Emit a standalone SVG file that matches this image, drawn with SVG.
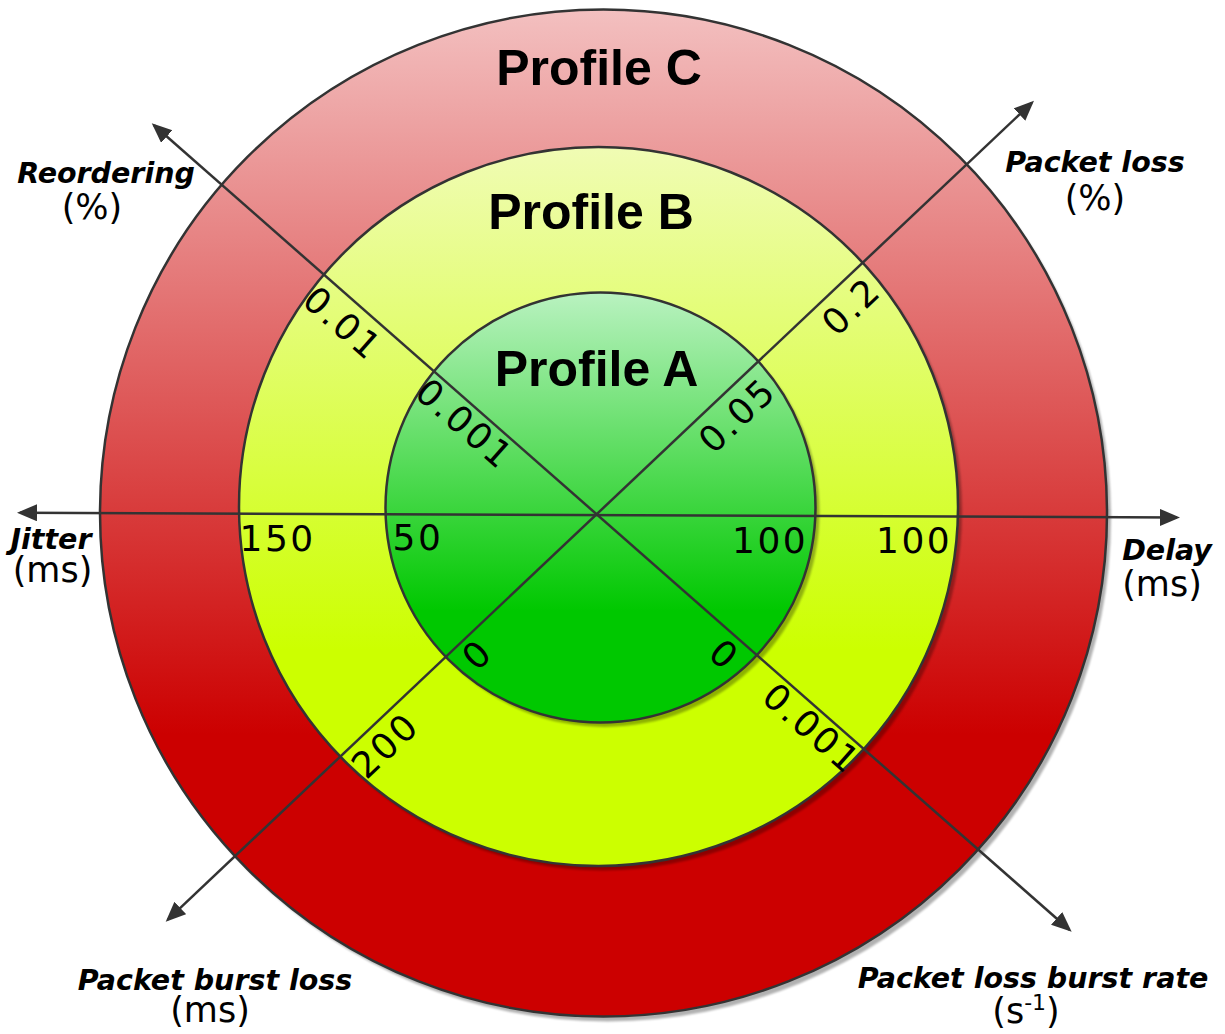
<svg xmlns="http://www.w3.org/2000/svg" width="1225" height="1034" viewBox="0 0 1225 1034">
<defs>
<linearGradient id="gC" x1="0" y1="0" x2="0" y2="1">
<stop offset="0" stop-color="#f3c0c0"/>
<stop offset="0.72" stop-color="#cc0000"/>
<stop offset="1" stop-color="#cc0000"/>
</linearGradient>
<linearGradient id="gB" x1="0" y1="0" x2="0" y2="1">
<stop offset="0" stop-color="#f0fcb4"/>
<stop offset="0.7" stop-color="#ccff00"/>
<stop offset="1" stop-color="#ccff00"/>
</linearGradient>
<linearGradient id="gA" x1="0" y1="0" x2="0" y2="1">
<stop offset="0" stop-color="#b9f2c0"/>
<stop offset="0.74" stop-color="#00c800"/>
<stop offset="1" stop-color="#00c800"/>
</linearGradient>
<filter id="blur" x="-5%" y="-5%" width="110%" height="110%">
<feGaussianBlur stdDeviation="1"/>
</filter>
<marker id="arr" markerUnits="userSpaceOnUse" markerWidth="24" markerHeight="20" refX="17" refY="8.5" orient="auto-start-reverse">
<path d="M0,0 L20,8.5 L0,17 Z" fill="#333"/>
</marker>
</defs>
<style>
.ring{stroke:#333;stroke-width:2.5}
.shadow{fill:#000;opacity:0.3}
.axis{stroke:#333;stroke-width:2.5;fill:none;marker-start:url(#arr);marker-end:url(#arr)}
.title{font-family:"Liberation Sans",Arial,sans-serif;font-weight:bold;font-size:50px;fill:#000;text-anchor:middle}
.val{font-family:"DejaVu Sans",sans-serif;font-size:36px;letter-spacing:2.5px;fill:#000}
.vc{text-anchor:middle}
.name{font-family:"DejaVu Sans",sans-serif;font-weight:bold;font-style:oblique;font-size:28.5px;fill:#000;text-anchor:middle}
.unit{font-family:"DejaVu Sans",sans-serif;font-size:35px;fill:#000;text-anchor:middle}
</style>
<rect width="1225" height="1034" fill="#fff"/>
<g id="profile-c">
<circle class="shadow" cx="607.5" cy="518" r="503.5" filter="url(#blur)"/>
<circle class="ring" cx="603.5" cy="513" r="503.5" fill="url(#gC)"/>
<text class="title" x="599" y="85">Profile C</text>
</g>
<g id="profile-b">
<circle class="shadow" cx="602.5" cy="511" r="359.5" filter="url(#blur)"/>
<circle class="ring" cx="598.5" cy="506.5" r="359.5" fill="url(#gB)"/>
<text class="title" x="591" y="229">Profile B</text>
</g>
<g id="profile-a">
<circle class="shadow" cx="604.5" cy="512" r="215" filter="url(#blur)"/>
<circle class="ring" cx="600.5" cy="507.5" r="215" fill="url(#gA)"/>
<text class="title" x="596.5" y="386">Profile A</text>
</g>
<g id="connectors">
<line class="axis" x1="20" y1="512.7" x2="1177" y2="517.5"/>
<line class="axis" x1="154" y1="125.3" x2="1069.4" y2="929.7"/>
<line class="axis" x1="1031.8" y1="102.8" x2="167.9" y2="919.6"/>
</g>
<g id="values">
<text class="val" x="239.5" y="551">150</text>
<text class="val" x="392.5" y="550">50</text>
<text class="val" x="732" y="553">100</text>
<text class="val" x="876" y="553">100</text>
<text class="val vc" transform="translate(334.4,332.8) rotate(41.3)">0.01</text>
<text class="val vc" transform="translate(456.4,433.3) rotate(41.3)">0.001</text>
<text class="val vc" transform="translate(716,664.3) rotate(41.3)">0</text>
<text class="val vc" transform="translate(803.4,737.8) rotate(41.3)">0.001</text>
<text class="val vc" transform="translate(746,424.4) rotate(-43.4)">0.05</text>
<text class="val vc" transform="translate(860,315.4) rotate(-43.4)">0.2</text>
<text class="val vc" transform="translate(486,663.4) rotate(-43.4)">0</text>
<text class="val vc" transform="translate(394,754.4) rotate(-43.4)">200</text>
</g>
<g id="axis-labels">
<text class="name" x="106" y="183">Reordering</text>
<text class="unit" x="92" y="219">(%)</text>
<text class="name" x="1095" y="172">Packet loss</text>
<text class="unit" x="1095" y="210">(%)</text>
<text class="name" x="51" y="549">Jitter</text>
<text class="unit" x="52.5" y="582">(ms)</text>
<text class="name" x="1167" y="560">Delay</text>
<text class="unit" x="1162" y="596">(ms)</text>
<text class="name" x="215" y="990">Packet burst loss</text>
<text class="unit" x="210" y="1022">(ms)</text>
<text class="name" x="1033" y="988">Packet loss burst rate</text>
<text class="unit" x="1026" y="1023">(s<tspan font-size="22" dy="-13">-1</tspan><tspan dy="13">)</tspan></text>
</g>
</svg>
